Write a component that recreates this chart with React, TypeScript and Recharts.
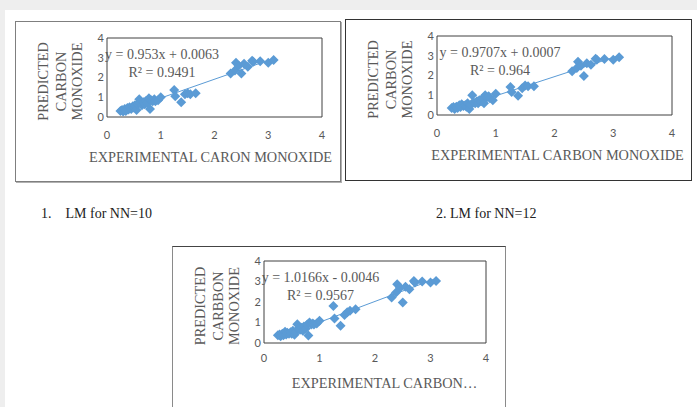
import { ScatterChart, Scatter, XAxis, YAxis, ReferenceArea } from "recharts";

// experimental CO (shared by the three panels)
const expX = [
  0.25, 0.28, 0.3, 0.33, 0.35, 0.38, 0.4, 0.42, 0.45, 0.48, 0.5, 0.52, 0.55,
  0.57, 0.6, 0.62, 0.65, 0.68, 0.7, 0.72, 0.75, 0.78, 0.8, 0.82, 0.85, 0.88,
  0.9, 0.95, 1.0, 1.25, 1.27, 1.38, 1.45, 1.5, 1.55, 1.65, 2.3, 2.38, 2.4,
  2.45, 2.5, 2.55, 2.62, 2.7, 2.72, 2.85, 3.0, 3.1,
];

// predicted CO, LM NN=10
const predNN10 = [
  0.3, 0.35, 0.28, 0.4, 0.3, 0.45, 0.38, 0.5, 0.4, 0.55, 0.48, 0.6, 0.35,
  0.65, 0.9, 0.7, 0.6, 0.75, 0.65, 0.8, 0.7, 0.95, 0.4, 0.85, 0.8, 0.9, 0.8,
  0.85, 1.0, 1.37, 1.05, 0.75, 1.15, 1.2, 1.15, 1.2, 2.2, 2.35, 2.75, 2.6,
  2.2, 2.7, 2.55, 2.85, 2.8, 2.82, 2.75, 2.88,
];

// predicted CO, LM NN=12
const predNN12 = [
  0.35, 0.4, 0.3, 0.42, 0.35, 0.5, 0.4, 0.55, 0.45, 0.5, 0.42, 0.6, 0.3, 0.5,
  1.0, 0.65, 0.6, 0.7, 0.6, 0.75, 0.7, 0.85, 0.6, 1.0, 0.9, 0.95, 0.85, 0.75,
  1.08, 1.42, 1.17, 0.97, 1.35, 1.5, 1.46, 1.46, 2.22, 2.38, 2.7, 2.5, 1.98,
  2.62, 2.54, 2.85, 2.8, 2.84, 2.8, 2.92,
];

// predicted CO, third panel
const predPanel3 = [
  0.38, 0.42, 0.33, 0.45, 0.38, 0.55, 0.42, 0.5, 0.45, 0.52, 0.45, 0.6, 0.4,
  0.55, 0.92, 0.7, 0.65, 0.75, 0.6, 0.8, 0.7, 0.9, 0.36, 1.0, 0.9, 0.95, 0.9,
  0.95, 1.08, 1.81, 1.2, 0.84, 1.36, 1.5, 1.57, 1.65, 2.22, 2.46, 2.87, 2.7,
  1.98, 2.75, 2.62, 3.03, 2.95, 3.0, 2.95, 3.03,
];

const slopes = [0.953, 0.9707, 1.0166];
const intercepts = [0.0063, 0.0007, -0.0046];
const r2s = ["0.9491", "0.964", "0.9567"];
const axisTicks = [0, 1, 2, 3, 4];

const BLUE = "#5B9BD5";
const GREY = "#595959";
const SERIF = "'Liberation Serif', 'Times New Roman', serif";
const SANS = "Lato, 'Liberation Sans', sans-serif";

const Diamond = (props: any) => {
  const { cx, cy } = props;
  const r = 5;
  return (
    <polygon
      points={`${cx},${cy - r} ${cx + r},${cy} ${cx},${cy + r} ${cx - r},${cy}`}
      fill={BLUE}
    />
  );
};

const NoDot = () => <g />;

function Panel({
  pred,
  idx,
  yLines,
  xTitle,
  width,
  height,
  marginTop,
  marginRight,
  xAxisHeight,
  xTickGap,
  xTitleDx,
  eqDx,
}: any) {
  const data = expX.map((x, i) => ({ x, y: pred[i] }));
  const xmin = Math.min(...expX);
  const xmax = Math.max(...expX);
  const trend = [xmin, xmax].map((x) => ({
    x,
    y: slopes[idx] * x + intercepts[idx],
  }));
  const b = intercepts[idx];
  const eq = `y = ${slopes[idx]}x ${b < 0 ? "-" : "+"} ${Math.abs(b).toFixed(4)}`;

  return (
    <ScatterChart
      width={width}
      height={height}
      margin={{ top: marginTop, right: marginRight, bottom: 0, left: 0 }}
    >
      <XAxis
        type="number"
        dataKey="x"
        domain={[0, 4]}
        ticks={axisTicks}
        axisLine={false}
        tickLine={false}
        tickSize={4}
        tickMargin={xTickGap}
        height={xAxisHeight}
        tick={{ fill: GREY, fontSize: 11, fontFamily: SANS }}
        label={{
          content: (p: any) => {
            const vb = p.viewBox;
            return (
              <text
                x={vb.x + vb.width / 2 + xTitleDx}
                y={vb.y + 40}
                textAnchor="middle"
                dominantBaseline="central"
                fill={GREY}
                fontSize={14.3}
                fontFamily={SERIF}
              >
                {xTitle}
              </text>
            );
          },
        }}
      />
      <YAxis
        type="number"
        dataKey="y"
        domain={[0, 4]}
        ticks={axisTicks}
        axisLine={false}
        tickLine={false}
        tickSize={1}
        tickMargin={2}
        width={91}
        tick={{ fill: GREY, fontSize: 11, fontFamily: SANS }}
        label={{
          content: (p: any) => {
            const vb = p.viewBox;
            const left = vb.x + vb.width;
            const cy = vb.y + vb.height / 2 + 4;
            const offs = [-64, -46.5, -30];
            return (
              <g>
                {yLines.map((t: string, i: number) => (
                  <text
                    key={t + i}
                    x={left + offs[i]}
                    y={cy}
                    transform={`rotate(-90, ${left + offs[i]}, ${cy})`}
                    textAnchor="middle"
                    dominantBaseline="central"
                    fill={GREY}
                    fontSize={14.3}
                    fontFamily={SERIF}
                  >
                    {t}
                  </text>
                ))}
              </g>
            );
          },
        }}
      />
      <ReferenceArea
        x1={0}
        x2={4}
        y1={0}
        y2={4}
        fill="none"
        fillOpacity={0}
        stroke="#404040"
        strokeWidth={1}
        label={{
          content: (p: any) => {
            const vb = p.viewBox;
            const cx = vb.x + eqDx;
            return (
              <g fill={GREY} fontSize={14} fontFamily={SERIF}>
                <text x={cx} y={vb.y + 16.5} textAnchor="middle" dominantBaseline="central">
                  {eq}
                </text>
                <text x={cx} y={vb.y + 34} textAnchor="middle" dominantBaseline="central">
                  {`R² = ${r2s[idx]}`}
                </text>
              </g>
            );
          },
        }}
      />
      <Scatter
        data={trend}
        line={{ stroke: BLUE, strokeWidth: 1 }}
        shape={NoDot}
        isAnimationActive={false}
      />
      <Scatter data={data} shape={Diamond} isAnimationActive={false} />
    </ScatterChart>
  );
}

const captionStyle: any = {
  position: "absolute",
  top: 206,
  fontFamily: "'Liberation Serif', serif",
  fontSize: 14,
  color: "#222",
  whiteSpace: "pre",
};

export default function App() {
  return (
    <div
      style={{
        position: "fixed",
        left: 0,
        top: 0,
        width: 697,
        height: 407,
        background: "#eeeeee",
        overflow: "hidden",
      }}
    >
      <div
        style={{
          position: "absolute",
          left: 5,
          top: 10,
          right: 0,
          bottom: 0,
          background: "#ffffff",
        }}
      />
      <div
        style={{
          position: "absolute",
          left: 15,
          top: 21,
          width: 324,
          height: 159,
          border: "1px solid #7f7f7f",
          boxShadow: "1px 1px 0 #b0b0b0",
        }}
      >
        <Panel
          pred={predNN10}
          idx={0}
          yLines={["PREDICTED", "CARBON", "MONOXIDE"]}
          xTitle="EXPERIMENTAL CARON MONOXIDE"
          width={324}
          height={159}
          marginTop={16}
          marginRight={18}
          xAxisHeight={64}
          xTickGap={10}
          xTitleDx={-4}
          eqDx={55}
        />
      </div>
      <div
        style={{
          position: "absolute",
          left: 345,
          top: 19,
          width: 345,
          height: 160,
          border: "1px solid #333333",
        }}
      >
        <Panel
          pred={predNN12}
          idx={1}
          yLines={["PREDICTED", "CARBON", "MONOXIDE"]}
          xTitle="EXPERIMENTAL CARBON MONOXIDE"
          width={345}
          height={160}
          marginTop={16}
          marginRight={19}
          xAxisHeight={65}
          xTickGap={10}
          xTitleDx={3}
          eqDx={63}
        />
      </div>
      <div style={{ ...captionStyle, left: 41 }}>{"1.    LM for NN=10"}</div>
      <div style={{ ...captionStyle, left: 436 }}>{"2. LM for NN=12"}</div>
      <div
        style={{
          position: "absolute",
          left: 172,
          top: 246,
          width: 332,
          height: 175,
          borderTop: "1px solid #444444",
          borderLeft: "1px solid #8a8a8a",
          borderRight: "1px solid #8a8a8a",
        }}
      >
        <Panel
          pred={predPanel3}
          idx={2}
          yLines={["PREDICTED", "CARBBON", "MONOXIDE"]}
          xTitle="EXPERIMENTAL CARBON…"
          width={332}
          height={175}
          marginTop={14}
          marginRight={19}
          xAxisHeight={79}
          xTickGap={7}
          xTitleDx={9.5}
          eqDx={56.5}
        />
      </div>
    </div>
  );
}
